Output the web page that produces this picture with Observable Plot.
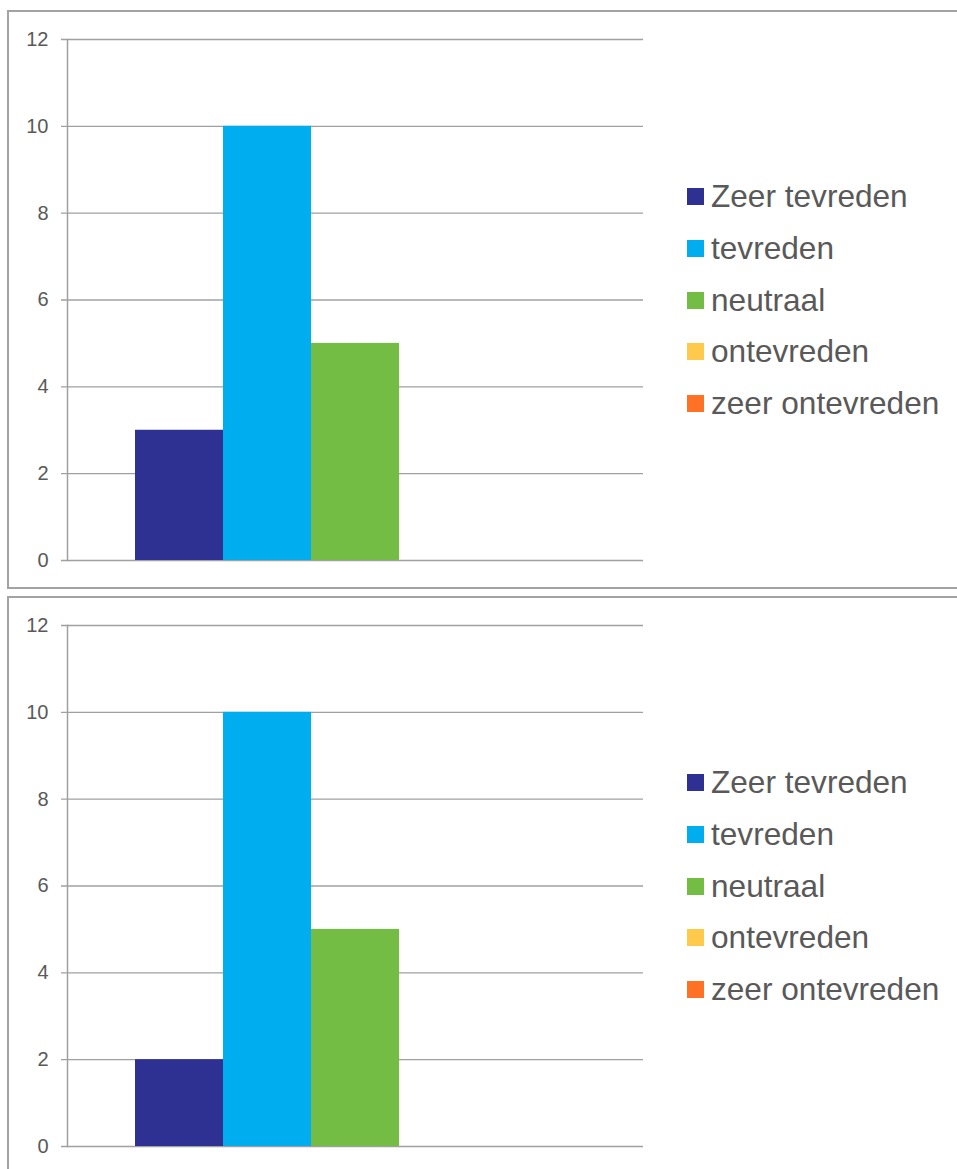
<!DOCTYPE html>
<html>
<head>
<meta charset="utf-8">
<script src="https://cdn.jsdelivr.net/npm/d3@7"></script>
<script src="https://cdn.jsdelivr.net/npm/@observablehq/plot@0.6"></script>
<style>
  html, body { margin: 0; padding: 0; background: #fff; overflow: hidden; }
  #root { position: relative; width: 957px; height: 1169px; font-family: "Liberation Sans", Arial, sans-serif; }
  .chart { position: absolute; left: 0; }
  .border { position: absolute; left: 7px; width: 960px; border: 2px solid #a3a3a3; box-sizing: border-box; background: transparent; }
  .legend { position: absolute; left: 687px; }
  .legend .row { display: flex; align-items: center; height: 51.7px; }
  .legend .sw { width: 17px; height: 17px; margin-right: 7px; flex: none; }
  .legend .lab { font-size: 31.6px; color: #595959; white-space: nowrap; }
</style>
</head>
<body>
<div id="root"></div>
<script>
const series = ["Zeer tevreden", "tevreden", "neutraal", "ontevreden", "zeer ontevreden"];
const seriesColors = ["#2e3192", "#00adef", "#73bd44", "#ffc94b", "#ff7226"];
const valuesTop = [3, 10, 5, 0, 0];
const valuesBottom = [2, 10, 5, 0, 0];
const yTicks = [0, 2, 4, 6, 8, 10, 12];

const root = document.getElementById("root");

function panel(values, offsetY) {
  const data = series.map((s, i) => ({series: s, value: values[i]}));
  const svg = Plot.plot({
    width: 660,
    height: 588,
    marginLeft: 67,
    marginRight: 17,
    marginTop: 39,
    marginBottom: 28,
    style: {background: "transparent", fontFamily: "'Liberation Sans', Arial, sans-serif", fontSize: "20px", color: "#595959", overflow: "visible"},
    x: {type: "band", domain: series, paddingInner: 0, paddingOuter: 0.75, axis: null},
    y: {domain: [0, 12], axis: null},
    color: {domain: series, range: seriesColors},
    marks: [
      Plot.ruleY(yTicks, {stroke: "#a0a0a0", strokeWidth: 1.3, insetLeft: -6, strokeOpacity: 1}),
      Plot.barY(data, {x: "series", y: "value", fill: "series"}),
      Plot.text(yTicks, {y: d => d, text: d => String(d), frameAnchor: "left", textAnchor: "end", dx: -19, fontSize: 20, fill: "#595959"}),
      Plot.frame({anchor: "left", stroke: "#a0a0a0", strokeWidth: 1.5})
    ]
  });
  svg.classList.add("chart");
  svg.style.top = offsetY + "px";
  root.appendChild(svg);

  const legend = document.createElement("div");
  legend.className = "legend";
  legend.style.top = (171 + offsetY) + "px";
  series.forEach((s, i) => {
    const row = document.createElement("div");
    row.className = "row";
    const sw = document.createElement("div");
    sw.className = "sw";
    sw.style.background = seriesColors[i];
    const lab = document.createElement("span");
    lab.className = "lab";
    lab.textContent = s;
    row.appendChild(sw);
    row.appendChild(lab);
    legend.appendChild(row);
  });
  root.appendChild(legend);
}

panel(valuesTop, 0);
panel(valuesBottom, 586);

const b1 = document.createElement("div");
b1.className = "border";
b1.style.top = "10px";
b1.style.height = "579px";
root.appendChild(b1);
const b2 = document.createElement("div");
b2.className = "border";
b2.style.top = "596px";
b2.style.height = "600px";
root.appendChild(b2);
</script>
</body>
</html>
